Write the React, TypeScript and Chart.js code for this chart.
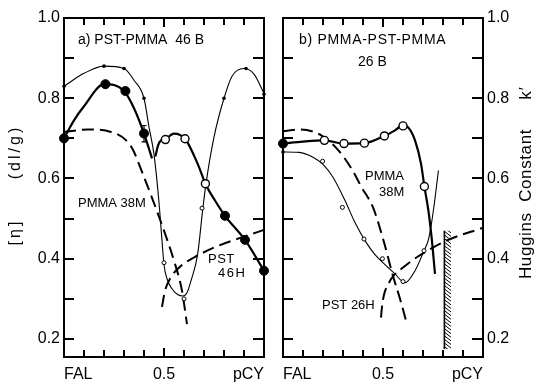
import React, { useEffect, useRef } from 'react';
import { Chart, registerables } from 'chart.js';

Chart.register(...registerables);

const FONT = '"Liberation Sans", Arial, Helvetica, sans-serif';

// ---- axis ticks / labels ----
const xTickMarks = [0.1, 0.2, 0.3, 0.4, 0.5, 0.6, 0.7, 0.8, 0.9];
const yTickMarks = [0.2, 0.3, 0.4, 0.5, 0.6, 0.7, 0.8, 0.9];
const xLabelValues = [0, 0.5, 1];
const xLabelTexts = ['FAL', '0.5', 'pCY'];
const yLabelValues = [0.2, 0.4, 0.6, 0.8, 1.0];
const yLabelTexts = ['0.2', '0.4', '0.6', '0.8', '1.0'];

// ---- panel a) PST-PMMA 46 B ----
const aThinX = [0, 0.1, 0.2, 0.3, 0.35, 0.4, 0.425, 0.45, 0.475, 0.49, 0.5, 0.515, 0.54, 0.57, 0.593, 0.615, 0.635, 0.668, 0.693, 0.71, 0.75, 0.8, 0.84, 0.9, 0.95, 1.0];
const aThinY = [0.83, 0.862, 0.88, 0.874, 0.845, 0.8, 0.728, 0.66, 0.54, 0.445, 0.385, 0.35, 0.325, 0.31, 0.307, 0.315, 0.345, 0.41, 0.52, 0.587, 0.703, 0.8, 0.855, 0.874, 0.86, 0.812];
const aThick1X = [0, 0.05, 0.1, 0.2, 0.3, 0.35, 0.4, 0.44];
const aThick1Y = [0.70, 0.745, 0.78, 0.835, 0.818, 0.775, 0.712, 0.65];
const aThick2X = [0.457, 0.47, 0.485, 0.505, 0.55, 0.605, 0.668, 0.707, 0.755, 0.805, 0.905, 1.0];
const aThick2Y = [0.655, 0.682, 0.695, 0.698, 0.712, 0.699, 0.637, 0.587, 0.545, 0.507, 0.447, 0.37];
const aPmmaX = [0, 0.12, 0.235, 0.335, 0.395, 0.445, 0.5, 0.55, 0.59, 0.615];
const aPmmaY = [0.716, 0.722, 0.716, 0.68, 0.61, 0.545, 0.47, 0.395, 0.32, 0.237];
const aPstX = [0.49, 0.505, 0.53, 0.58, 0.65, 0.77, 0.9, 1.0];
const aPstY = [0.28, 0.32, 0.35, 0.38, 0.403, 0.432, 0.455, 0.472];
const aBigX = [0, 0.207, 0.307, 0.4, 0.805, 0.905, 1.0];
const aBigY = [0.70, 0.835, 0.818, 0.712, 0.507, 0.447, 0.37];
const aOpenX = [0.507, 0.605, 0.707];
const aOpenY = [0.697, 0.699, 0.587];
const aDotX = [0, 0.2, 0.3, 0.4, 0.8, 0.91, 1.0];
const aDotY = [0.83, 0.88, 0.874, 0.8, 0.8, 0.874, 0.81];
const aSmallOpenX = [0.5, 0.6, 0.69];
const aSmallOpenY = [0.39, 0.3, 0.526];
const aErrX = [0.4];
const aErrLo = [0.691];
const aErrHi = [0.732];

// ---- panel b) PMMA-PST-PMMA 26 B ----
const bThickX = [0, 0.1, 0.207, 0.305, 0.407, 0.507, 0.56, 0.6, 0.63, 0.66, 0.69, 0.707, 0.727, 0.743, 0.76];
const bThickY = [0.687, 0.692, 0.695, 0.687, 0.688, 0.706, 0.72, 0.733, 0.725, 0.695, 0.637, 0.58, 0.52, 0.453, 0.362];
const bThinX = [0, 0.08, 0.15, 0.2, 0.25, 0.31, 0.36, 0.41, 0.46, 0.51, 0.56, 0.61, 0.66, 0.707, 0.727, 0.743, 0.76, 0.777];
const bThinY = [0.666, 0.665, 0.653, 0.635, 0.603, 0.545, 0.49, 0.445, 0.41, 0.385, 0.362, 0.34, 0.37, 0.422, 0.447, 0.49, 0.55, 0.62];
const bPmmaX = [0, 0.085, 0.193, 0.277, 0.343, 0.393, 0.45, 0.5, 0.55, 0.585, 0.618];
const bPmmaY = [0.718, 0.722, 0.707, 0.67, 0.624, 0.578, 0.528, 0.45, 0.357, 0.3, 0.24];
const bPstX = [0.49, 0.495, 0.505, 0.53, 0.552, 0.6, 0.667, 0.817, 1.0];
const bPstY = [0.253, 0.28, 0.31, 0.34, 0.357, 0.378, 0.403, 0.445, 0.477];
const bBigX = [0];
const bBigY = [0.687];
const bOpenX = [0.207, 0.305, 0.407, 0.507, 0.6, 0.707];
const bOpenY = [0.695, 0.687, 0.688, 0.706, 0.731, 0.58];
const bDotX = [0];
const bDotY = [0.666];
const bSmallOpenX = [0.198, 0.297, 0.405, 0.497, 0.6, 0.705];
const bSmallOpenY = [0.643, 0.528, 0.449, 0.40, 0.343, 0.42];
const bHatchX = [0.807, 0.84];
const bHatchY = [0.175, 0.47];

type Note = { s: string; x: number; y: number; size: number; spacing?: number };
const aNotes: Note[] = [
  { s: 'a) PST-PMMA  46 B', x: 0.07, y: 0.945, size: 14 },
  { s: 'PMMA 38M', x: 0.07, y: 0.5375, size: 13 },
  { s: 'PST', x: 0.72, y: 0.3975, size: 13, spacing: 0.5 },
  { s: '46H', x: 0.77, y: 0.3625, size: 13, spacing: 1.5 },
];
const bNotes: Note[] = [
  { s: 'b) PMMA-PST-PMMA', x: 0.08, y: 0.945, size: 14, spacing: 0.7 },
  { s: '26 B', x: 0.375, y: 0.89, size: 14 },
  { s: 'PMMA', x: 0.41, y: 0.605, size: 13 },
  { s: '38M', x: 0.48, y: 0.565, size: 13 },
  { s: 'PST 26H', x: 0.195, y: 0.2825, size: 13 },
];

const pts = (xs: number[], ys: number[]) => xs.map((x, i) => ({ x, y: ys[i] }));

const curve = (xs: number[], ys: number[], width: number, dash: number[] = []) => ({
  data: pts(xs, ys),
  showLine: true,
  borderColor: '#000',
  borderWidth: width,
  borderDash: dash,
  pointRadius: 0,
  pointHoverRadius: 0,
  cubicInterpolationMode: 'monotone',
  fill: false,
  clip: false,
  order: 2,
});

const markers = (xs: number[], ys: number[], kind: 'big' | 'open' | 'dot' | 'smallOpen') => {
  const st = {
    big: { r: 4.5, bg: '#000', bw: 1 },
    open: { r: 4, bg: '#fff', bw: 1.4 },
    dot: { r: 1.8, bg: '#000', bw: 0 },
    smallOpen: { r: 2, bg: '#fff', bw: 1 },
  }[kind];
  return {
    data: pts(xs, ys),
    showLine: false,
    pointStyle: 'circle',
    pointRadius: st.r,
    pointHoverRadius: st.r,
    pointBackgroundColor: st.bg,
    pointBorderColor: '#000',
    pointBorderWidth: st.bw,
    clip: false,
    order: 1,
  };
};

const labelFor = (v: number, vals: number[], texts: string[]) => {
  const i = vals.findIndex((t) => Math.abs(t - v) < 1e-6);
  return i >= 0 ? texts[i] : '';
};

const tickFont = { family: FONT, size: 16 };

const xScale = () => ({
  type: 'linear',
  min: 0,
  max: 1,
  bounds: 'data',
  position: 'bottom',
  grid: { display: false, drawTicks: false },
  border: { display: false },
  afterBuildTicks: (s: any) => { s.ticks = xLabelValues.map((v) => ({ value: v })); },
  ticks: {
    autoSkip: false,
    maxRotation: 0,
    minRotation: 0,
    align: 'inner',
    padding: 8,
    color: '#000',
    font: tickFont,
    callback: (v: number) => labelFor(v, xLabelValues, xLabelTexts),
  },
  afterFit: (s: any) => { s.height = 26; },
});

const yScale = (position: 'left' | 'right', width: number) => ({
  type: 'linear',
  min: 0.155,
  max: 1.0,
  bounds: 'data',
  position,
  grid: { display: false, drawTicks: false },
  border: { display: false },
  afterBuildTicks: (s: any) => { s.ticks = yLabelValues.map((v) => ({ value: v })); },
  ticks: {
    autoSkip: false,
    padding: 4,
    color: '#000',
    font: tickFont,
    callback: (v: number) => labelFor(v, yLabelValues, yLabelTexts),
  },
  afterFit: (s: any) => { s.width = width; },
});

function drawText(ctx: CanvasRenderingContext2D, s: string, x: number, y: number, size: number, spacing = 0, rotate = 0, align: CanvasTextAlign = 'left') {
  ctx.save();
  ctx.translate(x, y);
  if (rotate) ctx.rotate(rotate);
  ctx.font = `${size}px ${FONT}`;
  (ctx as any).letterSpacing = `${spacing}px`;
  ctx.fillStyle = '#000';
  ctx.textAlign = align;
  ctx.textBaseline = 'middle';
  ctx.fillText(s, 0, 0);
  ctx.restore();
}

const framePlugin = {
  id: 'frameTicks',
  afterDraw(chart: any) {
    const ctx: CanvasRenderingContext2D = chart.ctx;
    const area = chart.chartArea;
    const left = area.left;
    const right = area.right;
    const top = area.top;
    const bottom = area.bottom;
    const xs = chart.scales.x;
    const ys = chart.scales.y;
    ctx.save();
    ctx.fillStyle = '#000';
    ctx.fillRect(left - 1, top - 1, right - left + 2, 2);
    ctx.fillRect(left - 1, bottom - 1, right - left + 2, 2);
    ctx.fillRect(left - 1, top - 1, 2, bottom - top + 2);
    ctx.fillRect(right - 1, top - 1, 2, bottom - top + 2);
    for (let i = 0; i < yTickMarks.length; i++) {
      const p = Math.round(ys.getPixelForValue(yTickMarks[i]));
      ctx.fillRect(left, p - 1, 10, 2);
      ctx.fillRect(right - 11, p - 1, 11, 2);
    }
    for (let i = 0; i < xTickMarks.length; i++) {
      const v = xTickMarks[i];
      const p = Math.round(xs.getPixelForValue(v));
      const len = Math.abs(v - 0.5) < 1e-6 ? 9 : 7;
      ctx.fillRect(p - 1, bottom - len, 2, len);
      ctx.fillRect(p - 1, top, 2, len);
    }
    ctx.restore();
  },
};

const notesPlugin = (notes: Note[], extra: (chart: any, ctx: CanvasRenderingContext2D) => void) => ({
  id: 'notes',
  afterDraw(chart: any) {
    const ctx: CanvasRenderingContext2D = chart.ctx;
    const xs = chart.scales.x;
    const ys = chart.scales.y;
    notes.forEach((n) => {
      drawText(ctx, n.s, xs.getPixelForValue(n.x), ys.getPixelForValue(n.y), n.size, n.spacing || 0);
    });
    ctx.save();
    extra(chart, ctx);
    ctx.restore();
  },
});

const baseOptions = (padding: any, scales: any) => ({
  responsive: false,
  animation: false,
  events: [],
  layout: { padding },
  plugins: { legend: { display: false }, tooltip: { enabled: false } },
  scales,
});

export default function App() {
  const refA = useRef<HTMLCanvasElement>(null);
  const refB = useRef<HTMLCanvasElement>(null);

  useEffect(() => {
    const chartA = new Chart(refA.current as HTMLCanvasElement, {
      type: 'scatter',
      data: {
        datasets: [
          markers(aBigX, aBigY, 'big'),
          markers(aOpenX, aOpenY, 'open'),
          markers(aDotX, aDotY, 'dot'),
          markers(aSmallOpenX, aSmallOpenY, 'smallOpen'),
          curve(aThinX, aThinY, 1.1),
          curve(aThick1X, aThick1Y, 2.2),
          curve(aThick2X, aThick2Y, 2.2),
          curve(aPmmaX, aPmmaY, 2, [12, 6]),
          curve(aPstX, aPstY, 2, [12, 6]),
        ] as any,
      },
      options: baseOptions({ top: 18, right: 8, left: 0, bottom: 0 }, {
        x: xScale(),
        y: yScale('left', 64),
      }) as any,
      plugins: [
        framePlugin,
        notesPlugin(aNotes, (chart, ctx) => {
          const xs = chart.scales.x;
          const ys = chart.scales.y;
          ctx.strokeStyle = '#000';
          ctx.lineWidth = 1.2;
          ctx.beginPath();
          aErrX.forEach((x, i) => {
            const px = xs.getPixelForValue(x);
            const lo = ys.getPixelForValue(aErrLo[i]);
            const hi = ys.getPixelForValue(aErrHi[i]);
            ctx.moveTo(px, lo); ctx.lineTo(px, hi);
            ctx.moveTo(px - 2.5, lo); ctx.lineTo(px + 2.5, lo);
            ctx.moveTo(px - 2.5, hi); ctx.lineTo(px + 2.5, hi);
          });
          ctx.stroke();
          drawText(ctx, '(dl/g)', 16, 152, 16, 3, -Math.PI / 2, 'center');
          drawText(ctx, '[η]', 16, 232, 16, 3, -Math.PI / 2, 'center');
        }),
      ],
    });

    const chartB = new Chart(refB.current as HTMLCanvasElement, {
      type: 'scatter',
      data: {
        datasets: [
          markers(bBigX, bBigY, 'big'),
          markers(bOpenX, bOpenY, 'open'),
          markers(bDotX, bDotY, 'dot'),
          markers(bSmallOpenX, bSmallOpenY, 'smallOpen'),
          curve(bThinX, bThinY, 1.1),
          curve(bThickX, bThickY, 2.2),
          curve(bPmmaX, bPmmaY, 2, [12, 6]),
          curve(bPstX, bPstY, 2, [12, 6]),
        ] as any,
      },
      options: baseOptions({ top: 18, right: 0, left: 11, bottom: 0 }, {
        x: xScale(),
        y: yScale('right', 53),
      }) as any,
      plugins: [
        framePlugin,
        notesPlugin(bNotes, (chart, ctx) => {
          const xs = chart.scales.x;
          const ys = chart.scales.y;
          const x0 = xs.getPixelForValue(bHatchX[0]);
          const x1 = xs.getPixelForValue(bHatchX[1]);
          const yTop = ys.getPixelForValue(bHatchY[1]);
          const yBot = ys.getPixelForValue(bHatchY[0]);
          ctx.strokeStyle = '#000';
          ctx.lineWidth = 1.6;
          ctx.beginPath();
          ctx.moveTo(x0, yTop); ctx.lineTo(x0, yBot);
          ctx.stroke();
          ctx.save();
          ctx.beginPath();
          ctx.rect(x0, yTop, x1 - x0, yBot - yTop);
          ctx.clip();
          ctx.lineWidth = 1;
          ctx.beginPath();
          for (let y = yTop - 10; y < yBot + 10; y += 3.6) {
            ctx.moveTo(x0, y); ctx.lineTo(x1, y + 5);
          }
          ctx.stroke();
          ctx.restore();
          drawText(ctx, 'Huggins  Constant', 254, 204, 17, 0.6, -Math.PI / 2, 'center');
          drawText(ctx, 'k′', 254, 93, 17, 1, -Math.PI / 2, 'center');
        }),
      ],
    });

    return () => {
      chartA.destroy();
      chartB.destroy();
    };
  }, []);

  return (
    <div style={{ position: 'fixed', left: 0, top: 0, width: 536, height: 383, background: '#fff' }}>
      <canvas ref={refA} width={272} height={383} style={{ position: 'absolute', left: 0, top: 0, width: 272, height: 383 }} />
      <canvas ref={refB} width={264} height={383} style={{ position: 'absolute', left: 272, top: 0, width: 264, height: 383 }} />
    </div>
  );
}
